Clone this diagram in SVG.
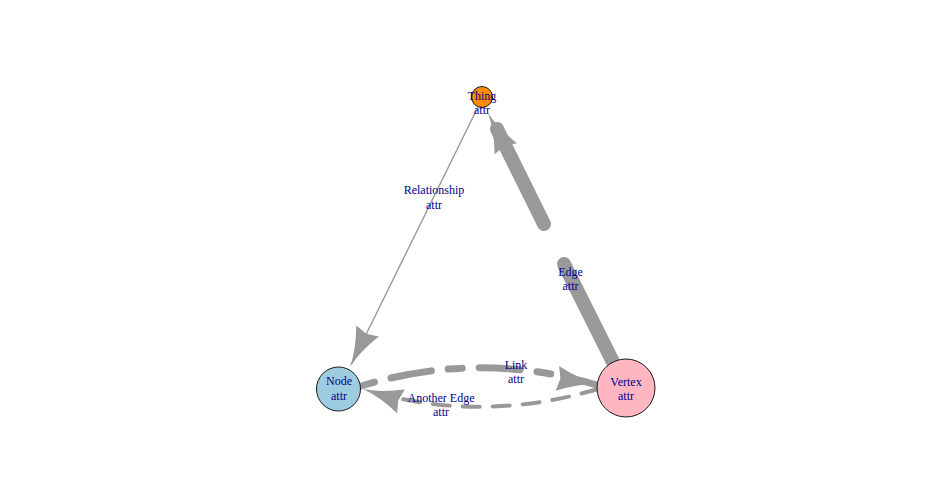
<svg xmlns="http://www.w3.org/2000/svg" width="936" height="504" viewBox="0 0 936 504">
<style>
.lbl{font-family:"Liberation Serif","Times New Roman",serif;font-size:12px;fill:#00008B;text-anchor:middle}
.e{fill:none;stroke:#999999;stroke-linecap:round}
.ah{fill:#999999}
.v{stroke:#1a1a1a;stroke-width:1}
</style>
<defs>
<path id="ah" d="M0,0 Q-18,-2 -40,-12.5 L-37,0 L-40,12.5 Q-18,2 0,0 Z"/>
</defs>
<rect width="936" height="504" fill="#ffffff"/>
<g id="edges">
<g id="e-relationship">
<line class="e" x1="477.5" y1="108" x2="352" y2="363" stroke-width="1.4"/>
<use href="#ah" class="ah" transform="translate(350,367) rotate(116)"/>
</g>
<g id="e-edge">
<line class="e" x1="613" y1="362" x2="564" y2="264" stroke-width="14"/>
<line class="e" x1="544" y1="224" x2="497" y2="129" stroke-width="14"/>
<use href="#ah" class="ah" transform="translate(488,113) rotate(-116.5)"/>
</g>
<g id="e-link">
<path class="e" d="M361,386 Q479.5,350 597,385" stroke-width="7" stroke-dasharray="14 17 41 17"/>
<use href="#ah" class="ah" transform="translate(597,384) rotate(8)"/>
</g>
<g id="e-another">
<path class="e" d="M598,389 Q480,424 366,390" stroke-width="4" stroke-dasharray="17 13"/>
<use href="#ah" class="ah" transform="translate(363,389) rotate(198)"/>
</g>
<text class="lbl" x="434" y="194">Relationship</text>
<text class="lbl" x="434" y="209">attr</text>
<text class="lbl" x="570.5" y="276">Edge</text>
<text class="lbl" x="570.5" y="290">attr</text>
<text class="lbl" x="516" y="369">Link</text>
<text class="lbl" x="516" y="383">attr</text>
<text class="lbl" x="441" y="402">Another Edge</text>
<text class="lbl" x="441" y="416">attr</text>
</g>
<g id="node-thing">
<circle class="v" cx="482" cy="97" r="10.5" fill="#FF8C00"/>
<text class="lbl" x="482" y="100">Thing</text>
<text class="lbl" x="482" y="113.5">attr</text>
</g>
<g id="node-node">
<circle class="v" cx="338.5" cy="389" r="22" fill="#9DCCE0"/>
<text class="lbl" x="339" y="385">Node</text>
<text class="lbl" x="339" y="399.5">attr</text>
</g>
<g id="node-vertex">
<circle class="v" cx="626" cy="388" r="29" fill="#FFB6C1"/>
<text class="lbl" x="626" y="385.5">Vertex</text>
<text class="lbl" x="626" y="400">attr</text>
</g>
</svg>
